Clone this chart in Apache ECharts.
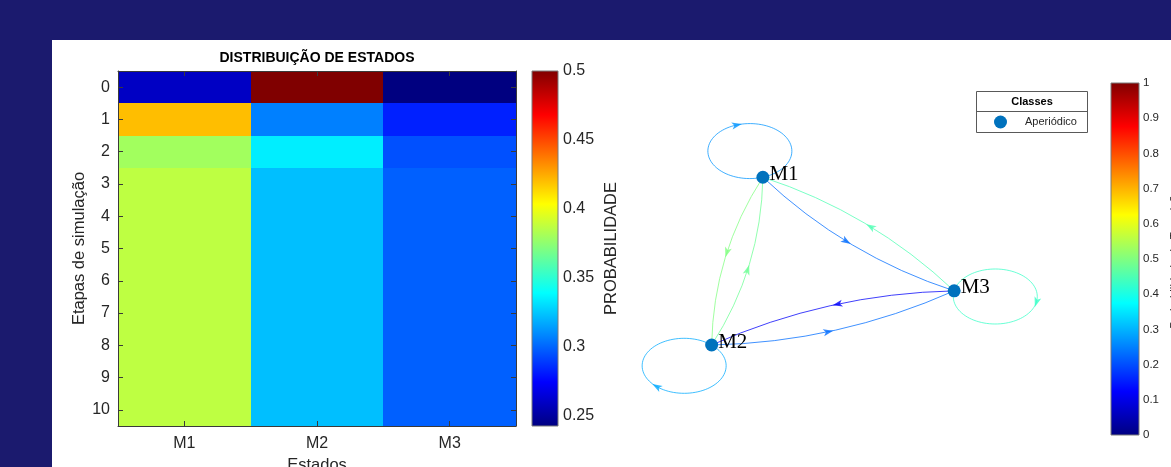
<!DOCTYPE html>
<html><head><meta charset="utf-8">
<script src="https://cdn.jsdelivr.net/npm/echarts@6/dist/echarts.min.js"></script>
<style>html,body{margin:0;padding:0;background:#1b1a6e}#c{width:1171px;height:467px}</style>
</head><body><div id="c"></div>
<script>
// ---------- data ----------
const states = ['M1', 'M2', 'M3'];
const steps = ['0', '1', '2', '3', '4', '5', '6', '7', '8', '9', '10'];
const probM1 = [0.260, 0.420, 0.380, 0.387, 0.387, 0.387, 0.387, 0.387, 0.387, 0.387, 0.387];
const probM2 = [0.500, 0.307, 0.335, 0.323, 0.323, 0.323, 0.323, 0.323, 0.323, 0.323, 0.323];
const probM3 = [0.2427, 0.283, 0.295, 0.299, 0.299, 0.299, 0.299, 0.299, 0.299, 0.299, 0.299];
const heatLimits = [0.2427, 0.5];
const heatTicks = [0.25, 0.3, 0.35, 0.4, 0.45, 0.5];

const nodeNames = ['M1', 'M2', 'M3'];
const nodeX = [3.04, 1.95, 7.11];
const nodeY = [7.31, 2.57, 4.10];
const edgeFrom = [0, 0, 0, 1, 1, 1, 2, 2, 2];
const edgeTo   = [0, 1, 2, 0, 1, 2, 0, 1, 2];
const edgeProb = [0.27, 0.50, 0.23, 0.48, 0.29, 0.23, 0.45, 0.12, 0.43];
const probLimits = [0, 1];
const probTicks = [0, 0.1, 0.2, 0.3, 0.4, 0.5, 0.6, 0.7, 0.8, 0.9, 1];
const className = 'Aperiódico';

// ---------- styling ----------
const JET = ['#000080', '#0000ff', '#0080ff', '#00ffff', '#80ff80', '#ffff00', '#ff8000', '#ff0000', '#800000'];
const TXT = '#262626';
const FONT = 'Liberation Sans, Arial, sans-serif';

const heatData = [];
[probM1, probM2, probM3].forEach((arr, j) => arr.forEach((v, i) => heatData.push([j, i, v])));
const edgeData = edgeFrom.map((f, i) => [f, edgeTo[i], edgeProb[i]]);
const nodeData = nodeNames.map((n, i) => ({ name: n, value: [nodeX[i], nodeY[i]] }));

function jetGradient() {
  return new echarts.graphic.LinearGradient(0, 1, 0, 0,
    JET.map((c, i) => ({ offset: i / (JET.length - 1), color: c })));
}
function colorbarItem(lo, hi) {
  return function (params, api) {
    const p0 = api.coord([0, lo]);
    const p1 = api.coord([1, hi]);
    return {
      type: 'rect',
      shape: { x: p0[0], y: p1[1], width: p1[0] - p0[0], height: p0[1] - p1[1] },
      style: { fill: jetGradient(), stroke: '#7a7a7a', lineWidth: 1 }
    };
  };
}
function cellItem(params, api) {
  const c = api.coord([api.value(0), api.value(1)]);
  const s = api.size([1, 1]);
  const x0 = Math.round(c[0] - s[0] / 2), x1 = Math.round(c[0] + s[0] / 2);
  const y0 = Math.round(c[1] - s[1] / 2), y1 = Math.round(c[1] + s[1] / 2);
  return {
    type: 'rect',
    shape: { x: x0, y: y0, width: x1 - x0, height: y1 - y0 },
    style: { fill: api.visual('color') }
  };
}
function arrowPoly(p, ux, uy, color) {
  const nx = -uy, ny = ux;
  return {
    type: 'polygon',
    shape: { points: [
      [p[0] + ux * 5, p[1] + uy * 5],
      [p[0] - ux * 5 + nx * 3.5, p[1] - uy * 5 + ny * 3.5],
      [p[0] - ux * 2.5, p[1] - uy * 2.5],
      [p[0] - ux * 5 - nx * 3.5, p[1] - uy * 5 - ny * 3.5]
    ] },
    style: { fill: color, opacity: 0.8 }
  };
}
function edgeItem(params, api) {
  const s = api.value(0), t = api.value(1);
  const color = api.visual('color');
  const P = nodeX.map((x, i) => api.coord([x, nodeY[i]]));
  const a = P[s];
  const lineStyle = { stroke: color, lineWidth: 1, fill: null, opacity: 0.75 };
  if (s === t) {
    const cx = (P[0][0] + P[1][0] + P[2][0]) / 3;
    const cy = (P[0][1] + P[1][1] + P[2][1]) / 3;
    let dx = a[0] - cx, dy = a[1] - cy;
    const L = Math.hypot(dx, dy); dx /= L; dy /= L;
    const rx = 42, ry = 27.5;
    const k = 1 / Math.sqrt((dx / rx) ** 2 + (dy / ry) ** 2);
    const ex = a[0] + dx * k, ey = a[1] + dy * k;
    const th0 = Math.atan2(-dy * k / ry, -dx * k / rx);
    const pts = [];
    for (let i = 0; i <= 96; i++) {
      const th = th0 + 2 * Math.PI * i / 96;
      pts.push([ex + rx * Math.cos(th), ey + ry * Math.sin(th)]);
    }
    const tha = th0 + Math.PI;
    const ap = [ex + rx * Math.cos(tha), ey + ry * Math.sin(tha)];
    let tx = -rx * Math.sin(tha), ty = ry * Math.cos(tha);
    const tl = Math.hypot(tx, ty); tx /= tl; ty /= tl;
    return { type: 'group', children: [
      { type: 'polyline', shape: { points: pts }, style: lineStyle },
      arrowPoly(ap, tx, ty, color)
    ] };
  }
  const b = P[t];
  const dx = b[0] - a[0], dy = b[1] - a[1];
  const len = Math.hypot(dx, dy);
  const px = -dy / len, py = dx / len;
  const h = 25;
  const c = [(a[0] + b[0]) / 2 + px * h, (a[1] + b[1]) / 2 + py * h];
  const tt = 0.47;
  const q = [
    (1 - tt) ** 2 * a[0] + 2 * (1 - tt) * tt * c[0] + tt * tt * b[0],
    (1 - tt) ** 2 * a[1] + 2 * (1 - tt) * tt * c[1] + tt * tt * b[1]
  ];
  let ux = 2 * (1 - tt) * (c[0] - a[0]) + 2 * tt * (b[0] - c[0]);
  let uy = 2 * (1 - tt) * (c[1] - a[1]) + 2 * tt * (b[1] - c[1]);
  const ul = Math.hypot(ux, uy); ux /= ul; uy /= ul;
  return { type: 'group', children: [
    { type: 'bezierCurve', shape: { x1: a[0], y1: a[1], x2: b[0], y2: b[1], cpx1: c[0], cpy1: c[1] }, style: lineStyle },
    arrowPoly(q, ux, uy, color)
  ] };
}

const axisTxt = { color: TXT, fontSize: 16, fontFamily: FONT };
const nameTxt = { color: TXT, fontSize: 16.5, fontFamily: FONT };
const boxLine = { show: true, lineStyle: { color: '#3a3a3a', width: 1 } };
const inTick = { show: true, inside: true, alignWithLabel: true, length: 5, lineStyle: { color: '#3a3a3a' } };

const chart = echarts.init(document.getElementById('c'), null, { renderer: 'canvas' });
chart.setOption({
  backgroundColor: '#1b1a6e',
  animation: false,
  graphic: [
    { type: 'rect', z: -10, shape: { x: 52, y: 40, width: 1119, height: 427 }, style: { fill: '#ffffff' } },
    { type: 'text', x: 317, y: 58.5, style: { text: 'DISTRIBUIÇÃO DE ESTADOS', align: 'center', verticalAlign: 'middle', font: 'bold 14px Liberation Sans, Arial, sans-serif', fill: '#000' } },
    { type: 'rect', shape: { x: 976.5, y: 91.5, width: 111, height: 41 }, style: { fill: '#fff', stroke: '#595959', lineWidth: 1 } },
    { type: 'line', shape: { x1: 976.5, y1: 111.5, x2: 1087.5, y2: 111.5 }, style: { stroke: '#595959', lineWidth: 1 } },
    { type: 'text', x: 1032, y: 102, style: { text: 'Classes', align: 'center', verticalAlign: 'middle', font: 'bold 11px Liberation Sans, Arial, sans-serif', fill: '#000' } }
  ],
  legend: {
    data: [className], left: 994, top: 115.5, padding: 0, itemGap: 0,
    itemWidth: 13, itemHeight: 13, icon: 'circle',
    textStyle: { color: TXT, fontSize: 11, fontFamily: FONT, padding: [0, 0, 0, 13] }
  },
  grid: [
    { left: 118, top: 71, width: 398, height: 355, outerBoundsMode: 'none', containLabel: false },
    { left: 532, top: 71, width: 26, height: 355, outerBoundsMode: 'none', containLabel: false },
    { left: 620, top: 82, width: 470, height: 354, outerBoundsMode: 'none', containLabel: false },
    { left: 1111, top: 83, width: 28, height: 352, outerBoundsMode: 'none', containLabel: false }
  ],
  xAxis: [
    { gridIndex: 0, type: 'category', data: states, position: 'bottom', axisLine: boxLine, axisTick: inTick, z: 3,
      axisLabel: Object.assign({ margin: 10 }, axisTxt), name: 'Estados', nameLocation: 'middle', nameGap: 31, nameTextStyle: nameTxt },
    { gridIndex: 0, type: 'category', data: states, position: 'top', axisLine: boxLine, axisTick: inTick, axisLabel: { show: false }, z: 3 },
    { gridIndex: 1, type: 'value', min: 0, max: 1, show: false },
    { gridIndex: 2, type: 'value', min: 0, max: 10, show: false },
    { gridIndex: 3, type: 'value', min: 0, max: 1, show: false }
  ],
  yAxis: [
    { gridIndex: 0, type: 'category', data: steps, inverse: true, position: 'left', axisLine: boxLine, axisTick: inTick, z: 3,
      axisLabel: Object.assign({ margin: 8 }, axisTxt), name: 'Etapas de simulação', nameLocation: 'middle', nameRotate: 90, nameGap: 30, nameTextStyle: nameTxt },
    { gridIndex: 0, type: 'category', data: steps, inverse: true, position: 'right', axisLine: boxLine, axisTick: inTick, axisLabel: { show: false }, z: 3 },
    { gridIndex: 1, type: 'value', min: heatLimits[0], max: heatLimits[1], position: 'right',
      axisLine: { show: false }, axisTick: { show: false }, splitLine: { show: false },
      axisLabel: Object.assign({ customValues: heatTicks, margin: 5 }, axisTxt),
      name: 'PROBABILIDADE', nameLocation: 'middle', nameRotate: 90, nameGap: 45, nameTextStyle: nameTxt },
    { gridIndex: 2, type: 'value', min: 0, max: 10, show: false },
    { gridIndex: 3, type: 'value', min: probLimits[0], max: probLimits[1], position: 'right',
      axisLine: { show: false }, axisTick: { show: false }, splitLine: { show: false },
      axisLabel: { customValues: probTicks, margin: 4, color: TXT, fontSize: 11.5, fontFamily: FONT },
      name: 'Probabilidade de Transição', nameLocation: 'middle', nameRotate: 90, nameGap: 30,
      nameTextStyle: { color: TXT, fontSize: 11.5, fontFamily: FONT } }
  ],
  visualMap: [
    { type: 'continuous', show: false, min: heatLimits[0], max: heatLimits[1], dimension: 2, seriesIndex: 0, inRange: { color: JET } },
    { type: 'continuous', show: false, min: probLimits[0], max: probLimits[1], dimension: 2, seriesIndex: 2, inRange: { color: JET } }
  ],
  series: [
    { type: 'custom', xAxisIndex: 0, yAxisIndex: 0, data: heatData, renderItem: cellItem, silent: true, z: 1 },
    { type: 'custom', xAxisIndex: 2, yAxisIndex: 2, data: [[0, 0]], renderItem: colorbarItem(heatLimits[0], heatLimits[1]), silent: true },
    { type: 'custom', xAxisIndex: 3, yAxisIndex: 3, data: edgeData, renderItem: edgeItem, silent: true, z: 2 },
    { type: 'scatter', name: className, xAxisIndex: 3, yAxisIndex: 3, data: nodeData, symbolSize: 13, z: 5,
      itemStyle: { color: '#0072BD', opacity: 1 },
      label: { show: true, position: 'right', distance: 0, offset: [0, -3], formatter: '{b}', color: '#000', fontSize: 21, fontFamily: 'Liberation Serif, Times New Roman, serif' } },
    { type: 'custom', xAxisIndex: 4, yAxisIndex: 4, data: [[0, 0]], renderItem: colorbarItem(probLimits[0], probLimits[1]), silent: true }
  ]
});
</script></body></html>
